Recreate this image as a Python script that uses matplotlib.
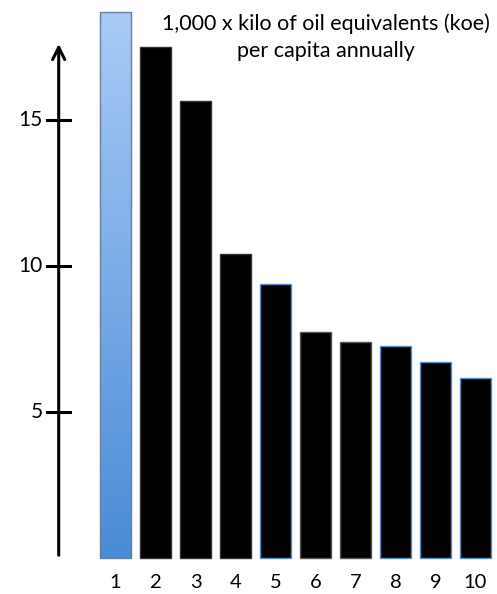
import numpy as np
import matplotlib
matplotlib.use("Agg")
from matplotlib import pyplot as plt
from matplotlib.colors import LinearSegmentedColormap

# values (1,000 koe per capita)
ranks = [1, 2, 3, 4, 5, 6, 7, 8, 9, 10]
values = [18.7, 17.5, 15.65, 10.4, 9.4, 7.75, 7.4, 7.25, 6.7, 6.15]
tick_vals = [5, 10, 15]
tick_labels = ["5", "10", "15"]
title_lines = ["1,000 x kilo of oil equivalents (koe)", "per capita annually"]

plt.rcParams['font.family'] = ['Lato', 'DejaVu Sans']

fig = plt.figure(figsize=(4.97, 5.94), dpi=100)
ax = fig.add_axes([0, 0, 1, 1])
ax.set_xlim(-1.8875, 10.5375)
ax.set_ylim(-1.233, 19.11)
ax.axis('off')

width = 0.78
edges = ['#6a7f99', '#333333', '#333333', '#333333', '#5b8fd0',
         '#555555', '#555555', '#5b8fd0', '#5b8fd0', '#5b8fd0']
bars = ax.bar(ranks, values, width=width, color='black',
              edgecolor=edges, linewidth=1.0, zorder=2)

# blue gradient in the first bar
b0 = bars[0]
b0.set_facecolor('none')
cmap = LinearSegmentedColormap.from_list('blu', ['#4a8bd6', '#a9cbf7'])
grad = np.linspace(0, 1, 256).reshape(-1, 1)
im = ax.imshow(grad, cmap=cmap, aspect='auto', origin='lower',
               extent=[ranks[0] - width / 2, ranks[0] + width / 2, 0, values[0]],
               zorder=1)
im.set_clip_path(b0)

# hand-drawn style axis with arrow
ax_x = -0.42
ax.annotate('', xy=(ax_x, 17.7), xytext=(ax_x, 0.0),
            arrowprops=dict(arrowstyle='->', lw=2.2, color='black',
                            mutation_scale=22))
for v, lab in zip(tick_vals, tick_labels):
    ax.plot([-0.7125, -0.1375], [v, v], color='black', lw=2.2)
    ax.text(-0.82, v, lab, ha='right', va='center', fontsize=15)

for r in ranks:
    ax.text(r, -0.84, str(r), ha='center', va='center', fontsize=14.5)

ax.text(6.26, 18.3, title_lines[0], ha='center', va='center', fontsize=15.5)
ax.text(6.26, 17.35, title_lines[1], ha='center', va='center', fontsize=15.5)

plt.savefig('out.png', dpi=100)
